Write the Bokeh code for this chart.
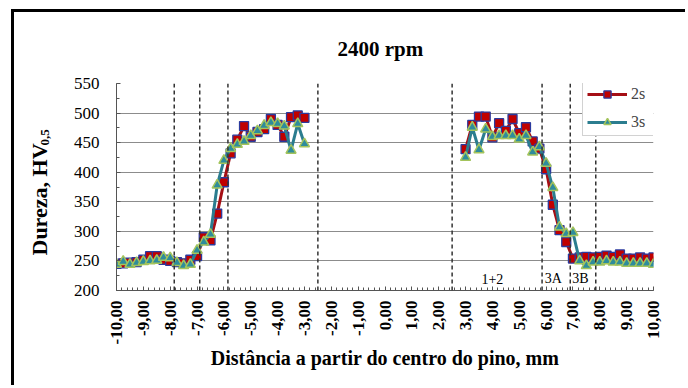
import math
from bokeh.plotting import figure
from bokeh.models import (FixedTicker, Span, Label, Legend, LegendItem,
                          ColumnDataSource, Range1d, CustomJSTickFormatter)
from bokeh.embed import file_html
from bokeh.resources import INLINE

# ---- data ----
x_left = [-10.0, -9.75, -9.5, -9.25, -9.0, -8.75, -8.5, -8.25, -8.0, -7.75,
          -7.5, -7.25, -7.0, -6.75, -6.5, -6.25, -6.0, -5.75, -5.5, -5.25,
          -5.0, -4.75, -4.5, -4.25, -4.0, -3.75, -3.5, -3.25, -3.0]
x_right = [3.0, 3.25, 3.5, 3.75, 4.0, 4.25, 4.5, 4.75, 5.0, 5.25,
           5.5, 5.75, 6.0, 6.25, 6.5, 6.75, 7.0, 7.25, 7.5, 7.75,
           8.0, 8.25, 8.5, 8.75, 9.0, 9.25, 9.5, 9.75, 10.0]

hv_2s_left = [245, 246, 247, 248, 252, 258, 258, 252, 250, 248,
              246, 252, 258, 290, 285, 330, 383, 432, 455, 478,
              460, 468, 473, 490, 480, 460, 493, 496, 492]
hv_3s_left = [244, 249, 244, 247, 249, 250, 251, 256, 255, 247,
              242, 244, 268, 282, 295, 378, 420, 440, 447, 452,
              462, 470, 479, 484, 482, 478, 437, 482, 448]
hv_2s_right = [439, 480, 494, 494, 459, 483, 470, 490, 466, 476,
               452, 440, 405, 345, 302, 282, 254, 256, 257, 256,
               257, 259, 257, 261, 254, 254, 256, 254, 256]
hv_3s_right = [425, 476, 438, 473, 460, 462, 462, 462, 456, 462,
               434, 443, 415, 374, 307, 296, 298, 250, 242, 248,
               248, 250, 248, 248, 246, 246, 246, 246, 244]

series_names = ["2s", "3s"]
x_ticks = [-10, -9, -8, -7, -6, -5, -4, -3, -2, -1, 0, 1, 2, 3, 4, 5, 6, 7, 8, 9, 10]
y_ticks = [200, 250, 300, 350, 400, 450, 500, 550]
zone_bounds = [-7.85, -6.9, -5.85, -2.5, 2.5, 5.85, 6.9, 7.85]
zone_labels = ["1+2", "3A", "3B"]
zone_label_x = [4.0, 6.27, 7.28]

SERIF = "Liberation Serif"
nan = float("nan")

src2 = ColumnDataSource(dict(x=x_left + [nan] + x_right, y=hv_2s_left + [nan] + hv_2s_right))
src3 = ColumnDataSource(dict(x=x_left + [nan] + x_right, y=hv_3s_left + [nan] + hv_3s_right))

p = figure(width=674, height=376, output_backend="svg", toolbar_location=None,
           x_range=Range1d(-10, 10), y_range=Range1d(200, 550),
           min_border_left=102, min_border_right=35, min_border_top=70,
           min_border_bottom=98)
p.margin = (9, 0, 0, 11)
p.styles = {"border-top": "3px solid black", "border-left": "3px solid black"}
p.outline_line_color = None
p.background_fill_color = "white"
p.border_fill_color = "white"

# title
p.title.text = "2400 rpm"
p.title.align = "left"
p.title.offset = 221
p.title.standoff = 45
p.title.text_font = SERIF
p.title.text_font_style = "bold"
p.title.text_font_size = "21px"
p.title.text_color = "black"

p.xgrid.grid_line_color = None
p.ygrid.grid_line_color = "#8c8c8c"
p.ygrid.grid_line_width = 1.2

# x axis
p.xaxis.ticker = FixedTicker(ticks=x_ticks,
                             minor_ticks=[-10 + 0.2 * i for i in range(101)])
p.xaxis.formatter = CustomJSTickFormatter(code="return tick.toFixed(2).replace('.', ',');")
p.xaxis.major_label_orientation = math.pi / 2
p.xaxis.major_label_text_font = SERIF
p.xaxis.major_label_text_font_style = "bold"
p.xaxis.major_label_text_font_size = "17px"
p.xaxis.major_label_text_color = "black"
p.xaxis.major_label_standoff = 10
p.xaxis.axis_line_color = "#555555"
p.xaxis.major_tick_line_color = "#555555"
p.xaxis.minor_tick_line_color = "#555555"
p.xaxis.major_tick_in = 4
p.xaxis.major_tick_out = 0
p.xaxis.minor_tick_in = 3
p.xaxis.minor_tick_out = 0
p.xaxis.axis_label = "Distância a partir do centro do pino, mm"
p.xaxis.axis_label_text_font = SERIF
p.xaxis.axis_label_text_font_style = "bold"
p.xaxis.axis_label_text_font_size = "20px"
p.xaxis.axis_label_text_color = "black"
p.xaxis.axis_label_standoff = 0

# y axis
p.yaxis.ticker = FixedTicker(ticks=y_ticks,
                             minor_ticks=[200 + 25 * i for i in range(15)])
p.ygrid.ticker = FixedTicker(ticks=y_ticks)
p.yaxis.major_label_text_font = SERIF
p.yaxis.major_label_text_font_size = "17px"
p.yaxis.major_label_text_color = "black"
p.yaxis.major_label_standoff = 17
p.yaxis.axis_line_color = "#555555"
p.yaxis.major_tick_line_color = "#555555"
p.yaxis.minor_tick_line_color = "#555555"
p.yaxis.major_tick_in = 4
p.yaxis.major_tick_out = 0
p.yaxis.minor_tick_in = 3
p.yaxis.minor_tick_out = 0

# y axis title with its subscript, in the left panel
p.add_layout(Label(x=-6, y=35, x_units="screen", y_units="screen", text="Dureza, HV",
                   angle=math.pi / 2, text_align="left", text_baseline="alphabetic",
                   text_font=SERIF, text_font_style="bold", text_font_size="22px",
                   text_color="black"), "left")
p.add_layout(Label(x=7, y=145, x_units="screen", y_units="screen", text="0,5",
                   angle=math.pi / 2, text_align="left", text_baseline="alphabetic",
                   text_font=SERIF, text_font_style="bold", text_font_size="13px",
                   text_color="black"), "left")

# zone boundaries
for xb in zone_bounds:
    p.add_layout(Span(location=xb, dimension="height", line_color="#333333",
                      line_width=1.5, line_dash="4 3"))

# series
l2 = p.line("x", "y", source=src2, line_color="#a50f15", line_width=3)
s2 = p.scatter("x", "y", source=src2, marker="square", size=9,
               fill_color="#c00000", line_color="#2b3a9e", line_width=1.3)
l3 = p.line("x", "y", source=src3, line_color="#2b7d8f", line_width=3)
s3 = p.scatter("x", "y", source=src3, marker="triangle", size=10,
               fill_color="#2e8c9c", line_color="#a4c45c", line_width=1.5)

legend = Legend(items=[LegendItem(label=series_names[0], renderers=[l2, s2]),
                       LegendItem(label=series_names[1], renderers=[l3, s3])],
                location=(466, 154))
legend.label_text_font = SERIF
legend.label_text_font_size = "16px"
legend.glyph_width = 40
legend.glyph_height = 18
legend.label_height = 18
legend.label_standoff = 4
legend.spacing = 10
legend.padding = 4
legend.margin = 0
legend.border_line_color = "#a6a6a6"
legend.border_line_width = 1
legend.background_fill_color = "white"
legend.background_fill_alpha = 1
p.add_layout(legend)

# zone labels
for txt, xl in zip(zone_labels, zone_label_x):
    p.add_layout(Label(x=xl, y=220, text=txt, text_align="center",
                       text_baseline="middle", text_font=SERIF,
                       text_font_size="14px", text_color="black"))

open("out.html", "w").write(file_html(p, INLINE))
